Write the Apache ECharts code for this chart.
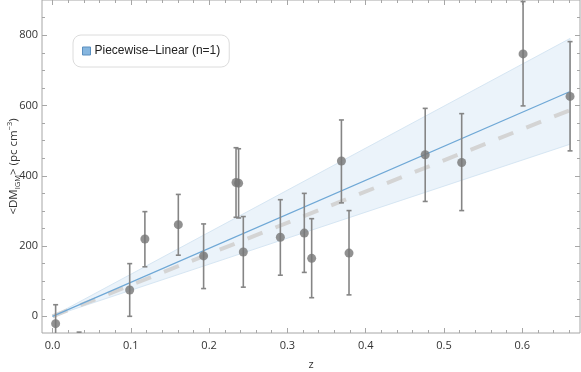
<!DOCTYPE html>
<html>
<head>
<meta charset="utf-8">
<script src="https://cdn.jsdelivr.net/npm/echarts@6/dist/echarts.min.js"></script>
<style>html,body{margin:0;padding:0;background:#fff;}#c{width:581px;height:372px;}</style>
</head>
<body>
<div id="c"></div>
<script>
// ---- data ----
const zObs   = [0.004, 0.034, 0.0986, 0.118, 0.1607, 0.193, 0.2344, 0.2377, 0.2437, 0.291, 0.3216, 0.331, 0.369, 0.3787, 0.476, 0.5226, 0.601, 0.661];
const dmObs  = [-21, -120, 75, 220, 261, 172, 381, 379, 183, 225, 237, 165, 442, 180, 460, 438, 747, 626];
const errLo  = [-90, -200, 0, 141, 174, 79, 282, 280, 83, 117, 125, 53, 323, 61, 327, 301, 599, 471];
const errHi  = [33, -45, 150, 298, 347, 263, 480, 477, 284, 332, 350, 278, 559, 301, 592, 577, 896, 782];

const fitZ      = [0, 0.661];
const fitDM     = [0, 640];
const bandLower = [0, 490];
const bandUpper = [0, 791];
const refZ      = [0, 0.661];
const refDM     = [0, 587];

const xMajor = [0, 0.1, 0.2, 0.3, 0.4, 0.5, 0.6];
const xMinor = [0.02,0.04,0.06,0.08,0.12,0.14,0.16,0.18,0.22,0.24,0.26,0.28,0.32,0.34,0.36,0.38,0.42,0.44,0.46,0.48,0.52,0.54,0.56,0.58,0.62,0.64,0.66];
const yMajor = [0, 200, 400, 600, 800];
const yMinor = [50,100,150,250,300,350,450,500,550,650,700,750,850];

const legendName = 'Piecewise\u2013Linear (n=1)';

// ---- chart ----
const X_MIN = -0.0134, X_MAX = 0.6737, Y_MIN = -47.5, Y_MAX = 900.5;
const frame = '#a6a6a6';
const font = 'Open Sans';

function xAx(pos, ticks, len, withLabels) {
  return {
    type: 'value', position: pos, min: X_MIN, max: X_MAX, gridIndex: 0,
    axisLine: {show: false, onZero: false}, splitLine: {show: false},
    axisTick: {show: true, inside: true, length: len, customValues: ticks, lineStyle: {color: frame, width: 1}},
    axisLabel: withLabels ? {show: true, customValues: ticks, margin: 7, color: '#333', fontFamily: font, fontSize: 11,
      formatter: v => v.toFixed(1)} : {show: false},
    name: withLabels ? 'z' : '', nameLocation: 'middle', nameGap: 26, nameMoveOverlap: false,
    nameTextStyle: {color: '#333', fontFamily: font, fontSize: 11}
  };
}
function yAx(pos, ticks, len, withLabels) {
  return {
    type: 'value', position: pos, min: Y_MIN, max: Y_MAX, gridIndex: 0,
    axisLine: {show: false, onZero: false}, splitLine: {show: false},
    axisTick: {show: true, inside: true, length: len, customValues: ticks, lineStyle: {color: frame, width: 1}},
    axisLabel: withLabels ? {show: true, customValues: ticks, margin: 4, color: '#333', fontFamily: font, fontSize: 11} : {show: false},
    name: withLabels ? '{m|<DM}{s|IGM}{m|> (pc cm}{p|\u22123}{m|)}' : '',
    nameLocation: 'middle', nameGap: 20, nameRotate: 90, nameMoveOverlap: false,
    nameTextStyle: {
      color: '#333', fontFamily: font, fontSize: 11,
      rich: {
        m: {fontFamily: font, fontSize: 11.5, color: '#333', lineHeight: 16, verticalAlign: 'middle'},
        s: {fontFamily: font, fontSize: 7.5, color: '#333', lineHeight: 16, verticalAlign: 'bottom', padding: [4, 0, 0, 0]},
        p: {fontFamily: font, fontSize: 7.5, color: '#333', lineHeight: 16, verticalAlign: 'top', padding: [0, 0, 5, 0]}
      }
    }
  };
}

const obsData = zObs.map((z, i) => [z, dmObs[i], errLo[i], errHi[i]]);
const bandData = fitZ.map((z, i) => [z, bandLower[i], bandUpper[i]]);

const option = {
  animation: false,
  backgroundColor: '#fff',
  grid: {left: 42, right: 1, top: 0, bottom: 39, show: true, borderColor: frame, borderWidth: 1,
         backgroundColor: 'transparent', containLabel: false, outerBoundsMode: 'none'},
  xAxis: [xAx('bottom', xMajor, 5, true), xAx('bottom', xMinor, 3, false), xAx('top', xMajor, 5, false), xAx('top', xMinor, 3, false)],
  yAxis: [yAx('left', yMajor, 5, true), yAx('left', yMinor, 3, false), yAx('right', yMajor, 5, false), yAx('right', yMinor, 3, false)],
  legend: {
    show: true, left: 73, top: 35, orient: 'horizontal',
    data: [{name: legendName, icon: 'rect'}],
    itemWidth: 8, itemHeight: 8, itemGap: 4,
    padding: [10, 9, 10, 9],
    backgroundColor: '#fff', borderColor: '#dcdcdc', borderWidth: 1, borderRadius: 8,
    textStyle: {color: '#222', fontFamily: 'Liberation Sans', fontSize: 12, padding: [0, 0, 0, -1]},
    itemStyle: {color: '#86b6df', borderColor: '#5b8fbf', borderWidth: 1}
  },
  series: [
    {
      type: 'custom', name: 'band', xAxisIndex: 0, yAxisIndex: 0, silent: true, z: 1, clip: true,
      data: bandData,
      renderItem: function (params, api) {
        if (params.dataIndex !== 0) return null;
        const up = [], lo = [];
        bandData.forEach(d => { up.push(api.coord([d[0], d[2]])); lo.push(api.coord([d[0], d[1]])); });
        const pts = up.concat(lo.reverse());
        return {type: 'polygon', shape: {points: pts},
          style: {fill: '#ebf3fa', stroke: '#d6e6f3', lineWidth: 1}};
      }
    },
    {
      type: 'line', name: 'ref', xAxisIndex: 0, yAxisIndex: 0, silent: true, z: 2, symbol: 'none',
      data: refZ.map((z, i) => [z, refDM[i]]),
      lineStyle: {color: '#d4d4d4', width: 4, type: [16, 14], cap: 'butt'}
    },
    {
      type: 'line', name: legendName, xAxisIndex: 0, yAxisIndex: 0, silent: true, z: 3, symbol: 'none',
      data: fitZ.map((z, i) => [z, fitDM[i]]),
      itemStyle: {color: '#86b6df'},
      lineStyle: {color: '#6fa8d6', width: 1.3}
    },
    {
      type: 'custom', name: 'err', xAxisIndex: 0, yAxisIndex: 0, silent: true, z: 4, clip: true,
      data: obsData,
      encode: {x: 0, y: [1, 2, 3]},
      renderItem: function (params, api) {
        const z = api.value(0);
        const lo = api.coord([z, api.value(2)]);
        const hi = api.coord([z, api.value(3)]);
        const w = 2.5;
        const st = {stroke: '#858585', lineWidth: 1.6};
        return {type: 'group', children: [
          {type: 'line', shape: {x1: lo[0], y1: lo[1], x2: hi[0], y2: hi[1]}, style: st},
          {type: 'line', shape: {x1: lo[0] - w, y1: lo[1], x2: lo[0] + w, y2: lo[1]}, style: st},
          {type: 'line', shape: {x1: hi[0] - w, y1: hi[1], x2: hi[0] + w, y2: hi[1]}, style: st}
        ]};
      }
    },
    {
      type: 'scatter', name: 'obs', xAxisIndex: 0, yAxisIndex: 0, silent: true, z: 5, clip: true,
      data: obsData.map(d => [d[0], d[1]]),
      symbol: 'circle', symbolSize: 9,
      itemStyle: {color: '#767676'}
    }
  ]
};

const chart = echarts.init(document.getElementById('c'), null, {renderer: 'canvas'});
chart.setOption(option);
</script>
</body>
</html>
